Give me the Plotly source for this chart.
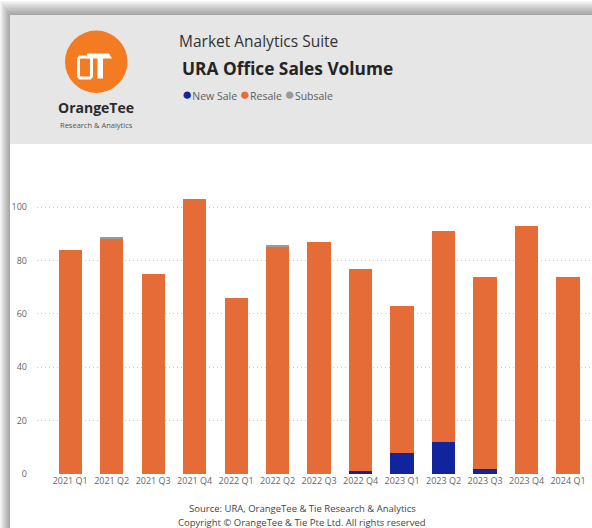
import plotly.graph_objects as go

# Quarterly URA office transactions, split by sale type
quarters = ["2021 Q1", "2021 Q2", "2021 Q3", "2021 Q4", "2022 Q1", "2022 Q2", "2022 Q3",
            "2022 Q4", "2023 Q1", "2023 Q2", "2023 Q3", "2023 Q4", "2024 Q1"]
new_sale = [0, 0, 0, 0, 0, 0, 0, 1, 8, 12, 2, 0, 0]
resale = [84, 88, 75, 103, 66, 85, 87, 76, 55, 79, 72, 93, 74]
subsale = [0, 1, 0, 0, 0, 1, 0, 0, 0, 0, 0, 0, 0]

COL_NEW = "#12239E"
COL_RESALE = "#E66C37"
COL_SUB = "#9A9A9A"
FONT = "Open Sans"

W, H = 592, 528
ML, MR, MT, MB = 37, 2, 180, 54
PW, PH = W - ML - MR, H - MT - MB


def fx(px):
    return (px - ML) / PW


def fy(py):
    return (H - MB - py) / PH


fig = go.Figure()
for name, vals, col in [("New Sale", new_sale, COL_NEW),
                        ("Resale", resale, COL_RESALE),
                        ("Subsale", subsale, COL_SUB)]:
    fig.add_trace(go.Bar(x=quarters, y=vals, name=name, marker_color=col,
                         marker_line_width=0, width=0.56))

shapes = []
# soft drop shadow around the card
for k in range(1, 11):
    shapes.append(dict(type="rect", xref="paper", yref="paper", layer="below",
                       x0=fx(10 - k), x1=fx(620), y0=fy(15 - k * 1.4), y1=fy(560),
                       fillcolor="black", opacity=0.04, line_width=0))
# card header and body
shapes.append(dict(type="rect", xref="paper", yref="paper", layer="below",
                   x0=fx(10), x1=fx(620), y0=fy(15), y1=fy(144),
                   fillcolor="#E6E6E6", line_width=0))
shapes.append(dict(type="rect", xref="paper", yref="paper", layer="below",
                   x0=fx(10), x1=fx(620), y0=fy(144), y1=fy(560),
                   fillcolor="white", line_width=0))
# logo disc
shapes.append(dict(type="circle", xref="paper", yref="paper", layer="below",
                   x0=fx(65), x1=fx(127.5), y0=fy(30.5), y1=fy(93),
                   fillcolor="#F37B21", line_width=0))


def path(points, close=True):
    s = "M " + " L ".join(f"{fx(a):.5f},{fy(b):.5f}" for a, b in points)
    return s + (" Z" if close else "")


# "O" of the monogram
shapes.append(dict(type="path", xref="paper", yref="paper", layer="below",
                   path=path([(80, 57), (90, 57), (91.5, 58.5), (91.5, 76.5), (90, 78),
                              (80, 78), (78.5, 76.5), (78.5, 58.5)]),
                   line=dict(color="white", width=3), fillcolor="rgba(0,0,0,0)"))
# "T" of the monogram
shapes.append(dict(type="path", xref="paper", yref="paper", layer="below",
                   path=path([(87, 53.5), (109, 53.5), (112, 58.5), (103, 58.5), (103, 78.5),
                              (97.5, 78.5), (97.5, 58.5), (87, 58.5)]),
                   line_width=0, fillcolor="white"))

ann = []


def text(x, y, s, size, color, anchor="left", bold=False):
    ann.append(dict(x=fx(x), y=fy(y), xref="paper", yref="paper", showarrow=False,
                    xanchor=anchor, yanchor="middle", text=f"<b>{s}</b>" if bold else s,
                    font=dict(family=FONT, size=size, color=color)))


text(96, 107, "OrangeTee", 14, "#2B2B2B", "center", True)
text(96, 125.5, "Research &amp; Analytics", 7.5, "#555555", "center")
text(177, 41, "Market Analytics Suite", 15.5, "#333333")
text(180, 69, "URA Office Sales Volume", 17.3, "#252423", bold=True)
legend_txt = " ".join(
    f"<span style='color:{c};font-size:17px'>●</span>{n}" for n, c in
    [("New Sale", COL_NEW), ("Resale", COL_RESALE), ("Subsale", COL_SUB)])
text(180, 93, legend_txt, 10.5, "#605E5C")
text(302, 508.5, "Source: URA, OrangeTee &amp; Tie Research &amp; Analytics", 9.5, "#444444", "center")
text(302, 522, "Copyright © OrangeTee &amp; Tie Pte Ltd. All rights reserved", 9.5, "#444444", "center")

fig.update_layout(
    width=W, height=H, margin=dict(l=ML, r=MR, t=MT, b=MB),
    paper_bgcolor="white", plot_bgcolor="rgba(0,0,0,0)",
    barmode="stack", showlegend=False, shapes=shapes, annotations=ann,
    font=dict(family=FONT),
)
fig.update_xaxes(type="category", range=[-0.8, 12.53], showgrid=False, showline=False,
                 zeroline=False, ticks="", tickfont=dict(size=9, color="#666666"))
fig.update_yaxes(range=[0, 110.2], dtick=20, showgrid=True, gridcolor="#C8C8C8",
                 griddash="1px,3px", gridwidth=1, zeroline=False, showline=False,
                 ticks="", ticklabelstandoff=9, tickfont=dict(size=9, color="#666666"))

fig.write_html("out.html")
